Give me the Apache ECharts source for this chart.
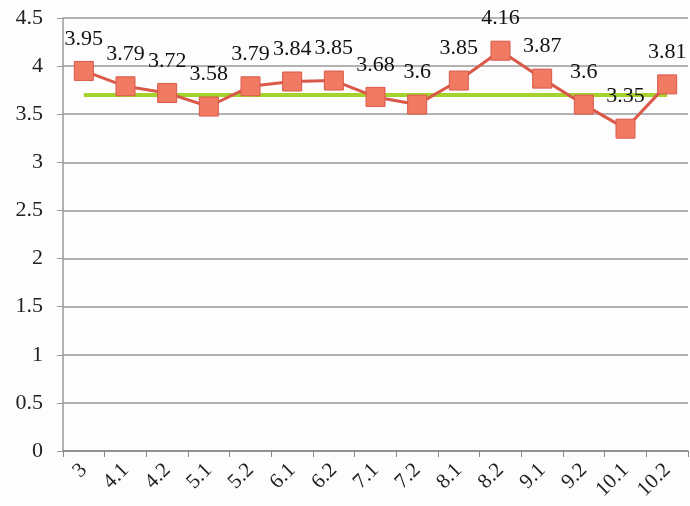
<!DOCTYPE html>
<html><head><meta charset="utf-8">
<script src="https://cdn.jsdelivr.net/npm/echarts@6/dist/echarts.min.js"></script>
<style>html,body{margin:0;padding:0;background:#fff}#c{width:690px;height:506px}</style>
</head><body><div id="c"></div>
<script>
const categories = ['3','4.1','4.2','5.1','5.2','6.1','6.2','7.1','7.2','8.1','8.2','9.1','9.2','10.1','10.2'];
const scores = [3.95,3.79,3.72,3.58,3.79,3.84,3.85,3.68,3.6,3.85,4.16,3.87,3.6,3.35,3.81];
const reference = [3.7,3.7,3.7,3.7,3.7,3.7,3.7,3.7,3.7,3.7,3.7,3.7,3.7,3.7,3.7];
const yTicks = [0,0.5,1,1.5,2,2.5,3,3.5,4,4.5];

const font = 'Liberation Serif';
const chart = echarts.init(document.getElementById('c'));
chart.setOption({
  animation: false,
  backgroundColor: '#fdfdfd',
  grid: {left: 63, right: 2, top: 18, bottom: 55},
  xAxis: {
    type: 'category', data: categories, boundaryGap: true,
    axisLine: {lineStyle: {color: '#888', width: 1.5}},
    axisTick: {show: true, length: 6, lineStyle: {color: '#888'}},
    axisLabel: {rotate: 45, fontFamily: font, fontSize: 21, color: '#222', margin: 16}
  },
  yAxis: {
    type: 'value', min: 0, max: 4.5, interval: 0.5,
    axisLine: {show: true, lineStyle: {color: '#999', width: 1.5}},
    axisTick: {show: true, length: 6, lineStyle: {color: '#999'}},
    axisLabel: {fontFamily: font, fontSize: 22, color: '#222', margin: 20,
      formatter: v => yTicks.includes(v) ? String(v) : ''},
    splitLine: {lineStyle: {color: '#999', width: 1.5}}
  },
  series: [
    {
      type: 'line', data: reference, symbol: 'none', z: 3,
      lineStyle: {color: '#a6d22e', width: 4}
    },
    {
      type: 'line', data: scores, z: 4,
      symbol: 'rect', symbolSize: 19,
      itemStyle: {color: '#f07a62', borderColor: '#d9584a', borderWidth: 1},
      lineStyle: {color: '#d9584a', width: 3},
      label: {show: true, position: 'top', distance: 11, fontFamily: font, fontSize: 22, color: '#111'}
    }
  ]
});
</script></body></html>
